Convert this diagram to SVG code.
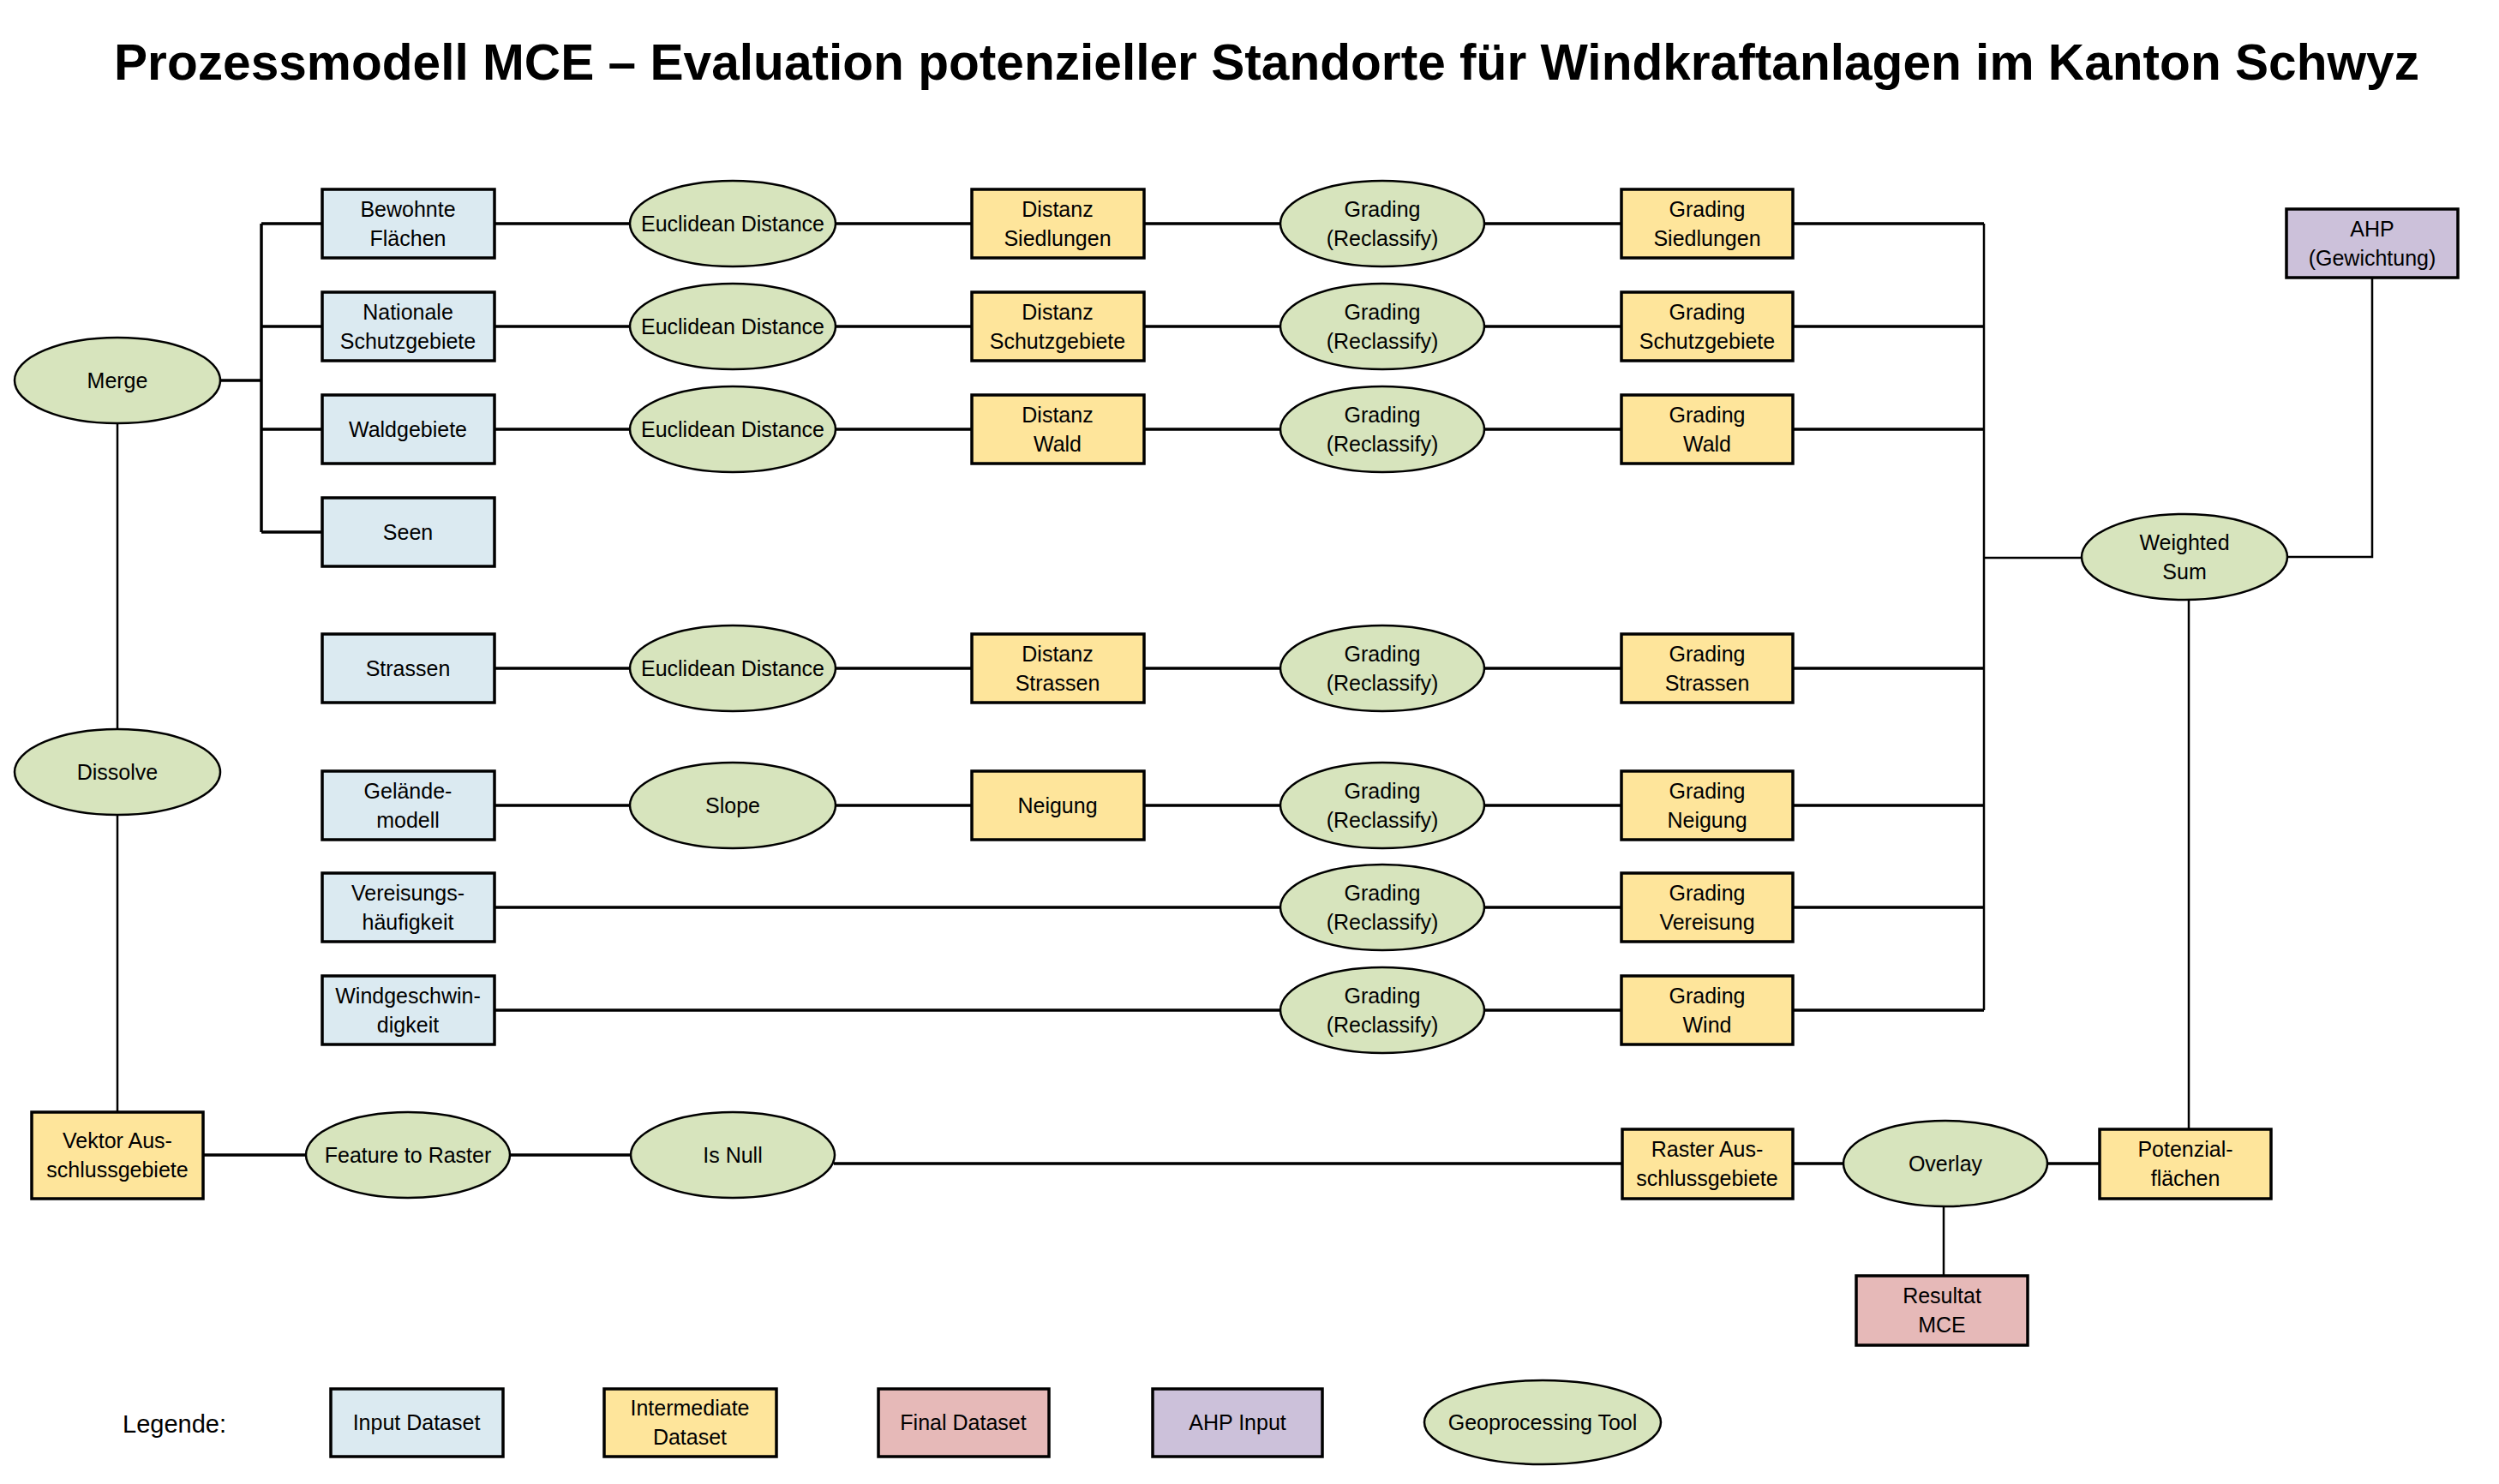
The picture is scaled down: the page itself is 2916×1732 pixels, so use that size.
<svg xmlns="http://www.w3.org/2000/svg" width="2916" height="1732" viewBox="0 0 2916 1732">
<style>
text{font-family:"Liberation Sans",Arial,sans-serif;font-size:25px;fill:#000;text-anchor:middle}
.title{font-size:60px;font-weight:bold;text-anchor:start}
.leg{font-size:29px;text-anchor:start}
.in{fill:#DBEAF1;stroke:#000;stroke-width:3.5}
.mid{fill:#FEE59B;stroke:#000;stroke-width:3.5}
.fin{fill:#E6B9B8;stroke:#000;stroke-width:3.5}
.ahp{fill:#CCC1DA;stroke:#000;stroke-width:3.5}
.tool{fill:#D7E4BD;stroke:#000;stroke-width:2.5}
#connectors path{fill:none;stroke:#000;stroke-width:3.5}
#connectors path.thin{stroke-width:2.5}
</style>
<rect width="2916" height="1732" fill="#fff"/>
<text class="title" x="133" y="93" textLength="2690" lengthAdjust="spacingAndGlyphs">Prozessmodell MCE – Evaluation potenzieller Standorte für Windkraftanlagen im Kanton Schwyz</text>

<g id="connectors">
<path d="M257,444 H305 M305,261 V621 M305,261 H376 M305,381 H376 M305,501 H376 M305,621 H376"/>
<path d="M577,261 H735 M975,261 H1134 M1335,261 H1494 M1732,261 H1892 M2092,261 H2315"/>
<path d="M577,381 H735 M975,381 H1134 M1335,381 H1494 M1732,381 H1892 M2092,381 H2315"/>
<path d="M577,501 H735 M975,501 H1134 M1335,501 H1494 M1732,501 H1892 M2092,501 H2315"/>
<path d="M577,780 H735 M975,780 H1134 M1335,780 H1494 M1732,780 H1892 M2092,780 H2315"/>
<path d="M577,940 H735 M975,940 H1134 M1335,940 H1494 M1732,940 H1892 M2092,940 H2315"/>
<path d="M577,1059 H1494 M1732,1059 H1892 M2092,1059 H2315"/>
<path d="M577,1179 H1494 M1732,1179 H1892 M2092,1179 H2315"/>
<path class="thin" d="M2315,261 V1179 M2315,651 H2429"/>
<path class="thin" d="M2768,324 V650 H2669"/>
<path class="thin" d="M2554,700 V1318"/>
<path class="thin" d="M137,494 V851 M137,951 V1298"/>
<path d="M237,1348 H357 M595,1348 H736 M973,1358 H1893 M2092,1358 H2151 M2390,1358 H2450"/>
<path class="thin" d="M2268,1408 V1489"/>
</g>

<g id="merge"><ellipse class="tool" cx="137" cy="444" rx="120" ry="50"/><text x="137" y="453">Merge</text></g>
<g id="dissolve"><ellipse class="tool" cx="137" cy="901" rx="120" ry="50"/><text x="137" y="910">Dissolve</text></g>

<g id="bewohnte"><rect class="in" x="376" y="221" width="201" height="80"/><text x="476" y="253">Bewohnte</text><text x="476" y="287">Flächen</text></g>
<g id="nationale"><rect class="in" x="376" y="341" width="201" height="80"/><text x="476" y="373">Nationale</text><text x="476" y="407">Schutzgebiete</text></g>
<g id="waldgebiete"><rect class="in" x="376" y="461" width="201" height="80"/><text x="476" y="510">Waldgebiete</text></g>
<g id="seen"><rect class="in" x="376" y="581" width="201" height="80"/><text x="476" y="630">Seen</text></g>
<g id="strassen"><rect class="in" x="376" y="740" width="201" height="80"/><text x="476" y="789">Strassen</text></g>
<g id="gelaende"><rect class="in" x="376" y="900" width="201" height="80"/><text x="476" y="932">Gelände-</text><text x="476" y="966">modell</text></g>
<g id="vereisung"><rect class="in" x="376" y="1019" width="201" height="80"/><text x="476" y="1051">Vereisungs-</text><text x="476" y="1085">häufigkeit</text></g>
<g id="windgeschwindigkeit"><rect class="in" x="376" y="1139" width="201" height="80"/><text x="476" y="1171">Windgeschwin-</text><text x="476" y="1205">digkeit</text></g>

<g id="euclid1"><ellipse class="tool" cx="855" cy="261" rx="120" ry="50"/><text x="855" y="270">Euclidean Distance</text></g>
<g id="euclid2"><ellipse class="tool" cx="855" cy="381" rx="120" ry="50"/><text x="855" y="390">Euclidean Distance</text></g>
<g id="euclid3"><ellipse class="tool" cx="855" cy="501" rx="120" ry="50"/><text x="855" y="510">Euclidean Distance</text></g>
<g id="euclid4"><ellipse class="tool" cx="855" cy="780" rx="120" ry="50"/><text x="855" y="789">Euclidean Distance</text></g>
<g id="slope"><ellipse class="tool" cx="855" cy="940" rx="120" ry="50"/><text x="855" y="949">Slope</text></g>

<g id="distanz-siedlungen"><rect class="mid" x="1134" y="221" width="201" height="80"/><text x="1234" y="253">Distanz</text><text x="1234" y="287">Siedlungen</text></g>
<g id="distanz-schutz"><rect class="mid" x="1134" y="341" width="201" height="80"/><text x="1234" y="373">Distanz</text><text x="1234" y="407">Schutzgebiete</text></g>
<g id="distanz-wald"><rect class="mid" x="1134" y="461" width="201" height="80"/><text x="1234" y="493">Distanz</text><text x="1234" y="527">Wald</text></g>
<g id="distanz-strassen"><rect class="mid" x="1134" y="740" width="201" height="80"/><text x="1234" y="772">Distanz</text><text x="1234" y="806">Strassen</text></g>
<g id="neigung"><rect class="mid" x="1134" y="900" width="201" height="80"/><text x="1234" y="949">Neigung</text></g>

<g id="grading1"><ellipse class="tool" cx="1613" cy="261" rx="119" ry="50"/><text x="1613" y="253">Grading</text><text x="1613" y="287">(Reclassify)</text></g>
<g id="grading2"><ellipse class="tool" cx="1613" cy="381" rx="119" ry="50"/><text x="1613" y="373">Grading</text><text x="1613" y="407">(Reclassify)</text></g>
<g id="grading3"><ellipse class="tool" cx="1613" cy="501" rx="119" ry="50"/><text x="1613" y="493">Grading</text><text x="1613" y="527">(Reclassify)</text></g>
<g id="grading4"><ellipse class="tool" cx="1613" cy="780" rx="119" ry="50"/><text x="1613" y="772">Grading</text><text x="1613" y="806">(Reclassify)</text></g>
<g id="grading5"><ellipse class="tool" cx="1613" cy="940" rx="119" ry="50"/><text x="1613" y="932">Grading</text><text x="1613" y="966">(Reclassify)</text></g>
<g id="grading6"><ellipse class="tool" cx="1613" cy="1059" rx="119" ry="50"/><text x="1613" y="1051">Grading</text><text x="1613" y="1085">(Reclassify)</text></g>
<g id="grading7"><ellipse class="tool" cx="1613" cy="1179" rx="119" ry="50"/><text x="1613" y="1171">Grading</text><text x="1613" y="1205">(Reclassify)</text></g>

<g id="g-siedlungen"><rect class="mid" x="1892" y="221" width="200" height="80"/><text x="1992" y="253">Grading</text><text x="1992" y="287">Siedlungen</text></g>
<g id="g-schutz"><rect class="mid" x="1892" y="341" width="200" height="80"/><text x="1992" y="373">Grading</text><text x="1992" y="407">Schutzgebiete</text></g>
<g id="g-wald"><rect class="mid" x="1892" y="461" width="200" height="80"/><text x="1992" y="493">Grading</text><text x="1992" y="527">Wald</text></g>
<g id="g-strassen"><rect class="mid" x="1892" y="740" width="200" height="80"/><text x="1992" y="772">Grading</text><text x="1992" y="806">Strassen</text></g>
<g id="g-neigung"><rect class="mid" x="1892" y="900" width="200" height="80"/><text x="1992" y="932">Grading</text><text x="1992" y="966">Neigung</text></g>
<g id="g-vereisung"><rect class="mid" x="1892" y="1019" width="200" height="80"/><text x="1992" y="1051">Grading</text><text x="1992" y="1085">Vereisung</text></g>
<g id="g-wind"><rect class="mid" x="1892" y="1139" width="200" height="80"/><text x="1992" y="1171">Grading</text><text x="1992" y="1205">Wind</text></g>

<g id="weighted-sum"><ellipse class="tool" cx="2549" cy="650" rx="120" ry="50"/><text x="2549" y="642">Weighted</text><text x="2549" y="676">Sum</text></g>
<g id="ahp"><rect class="ahp" x="2668" y="244" width="200" height="80"/><text x="2768" y="276">AHP</text><text x="2768" y="310">(Gewichtung)</text></g>

<g id="vektor"><rect class="mid" x="37" y="1298" width="200" height="101"/><text x="137" y="1340">Vektor Aus-</text><text x="137" y="1374">schlussgebiete</text></g>
<g id="feature-to-raster"><ellipse class="tool" cx="476" cy="1348" rx="119" ry="50"/><text x="476" y="1357">Feature to Raster</text></g>
<g id="is-null"><ellipse class="tool" cx="855" cy="1348" rx="119" ry="50"/><text x="855" y="1357">Is Null</text></g>
<g id="raster"><rect class="mid" x="1893" y="1318" width="199" height="81"/><text x="1992" y="1350">Raster Aus-</text><text x="1992" y="1384">schlussgebiete</text></g>
<g id="overlay"><ellipse class="tool" cx="2270" cy="1358" rx="119" ry="50"/><text x="2270" y="1367">Overlay</text></g>
<g id="potenzial"><rect class="mid" x="2450" y="1318" width="200" height="81"/><text x="2550" y="1350">Potenzial-</text><text x="2550" y="1384">flächen</text></g>
<g id="resultat"><rect class="fin" x="2166" y="1489" width="200" height="81"/><text x="2266" y="1521">Resultat</text><text x="2266" y="1555">MCE</text></g>

<g id="legend">
<text class="leg" x="143" y="1672">Legende:</text>
<g id="leg-input"><rect class="in" x="386" y="1621" width="201" height="79"/><text x="486" y="1669">Input Dataset</text></g>
<g id="leg-intermediate"><rect class="mid" x="705" y="1621" width="201" height="79"/><text x="805" y="1652">Intermediate</text><text x="805" y="1686">Dataset</text></g>
<g id="leg-final"><rect class="fin" x="1025" y="1621" width="199" height="79"/><text x="1124" y="1669">Final Dataset</text></g>
<g id="leg-ahp"><rect class="ahp" x="1345" y="1621" width="198" height="79"/><text x="1444" y="1669">AHP Input</text></g>
<g id="leg-tool"><ellipse class="tool" cx="1800" cy="1660" rx="138" ry="49"/><text x="1800" y="1669">Geoprocessing Tool</text></g>
</g>
</svg>
